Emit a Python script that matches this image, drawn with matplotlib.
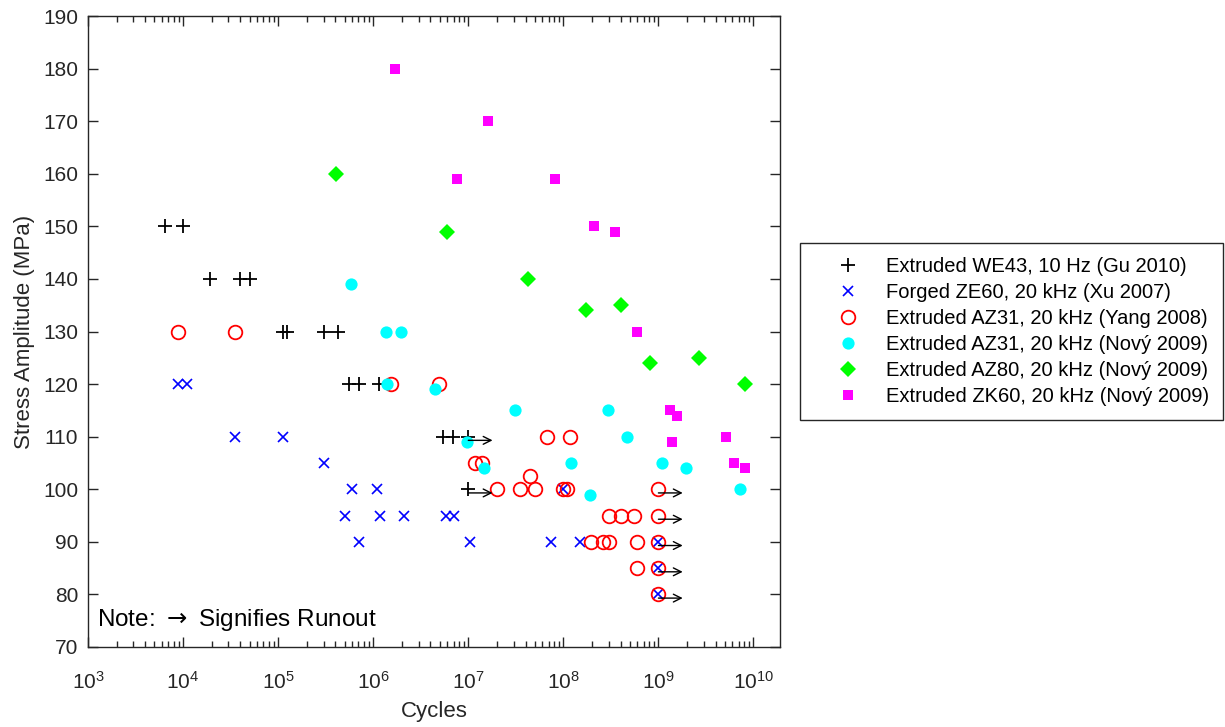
import matplotlib
matplotlib.use("Agg")
import matplotlib.pyplot as plt

plt.rcParams["font.family"] = ["Liberation Sans", "DejaVu Sans"]

# Extruded WE43, 10 Hz (Gu 2010)
we43_cycles = [6.5e3, 1.0e4, 1.9e4, 4.0e4, 5.1e4, 1.12e5, 1.23e5, 3.0e5, 4.3e5,
               5.5e5, 7.1e5, 1.15e6, 5.4e6, 6.9e6, 1.0e7, 1.0e7]
we43_stress = [150, 150, 140, 140, 140, 130, 130, 130, 130,
               120, 120, 120, 110, 110, 110, 100]

# Forged ZE60, 20 kHz (Xu 2007)
ze60_cycles = [8.9e3, 1.1e4, 3.5e4, 1.12e5, 3.0e5, 6.0e5, 1.1e6, 1.0e8, 5.0e5, 1.17e6,
               2.1e6, 5.9e6, 7.0e6, 7.1e5, 1.05e7, 7.4e7, 1.5e8, 1.0e9, 1.0e9, 1.0e9]
ze60_stress = [120, 120, 110, 110, 105, 100, 100, 100, 95, 95,
               95, 95, 95, 90, 90, 90, 90, 90, 85, 80]

# Extruded AZ31, 20 kHz (Yang 2008)
az31y_cycles = [8.9e3, 3.5e4, 1.55e6, 4.9e6, 6.7e7, 1.17e8, 1.18e7, 1.38e7, 4.5e7,
                2.0e7, 3.5e7, 5.0e7, 9.8e7, 1.1e8, 1.0e9, 3.0e8, 4.0e8, 5.5e8, 1.0e9,
                1.95e8, 2.6e8, 3.0e8, 6.0e8, 1.0e9, 6.0e8, 1.0e9, 1.0e9]
az31y_stress = [130, 130, 120, 120, 110, 110, 105, 105, 102.5,
                100, 100, 100, 100, 100, 100, 95, 95, 95, 95,
                90, 90, 90, 90, 90, 85, 85, 80]

# Extruded AZ31, 20 kHz (Nový 2009)
az31n_cycles = [5.9e5, 1.35e6, 1.95e6, 1.4e6, 4.5e6, 9.8e6, 1.45e7, 3.1e7, 1.2e8,
                1.9e8, 2.95e8, 4.7e8, 1.1e9, 1.95e9, 7.2e9]
az31n_stress = [139, 130, 130, 120, 119, 109, 104, 115, 105,
                99, 115, 110, 105, 104, 100]

# Extruded AZ80, 20 kHz (Nový 2009)
az80_cycles = [4.1e5, 6.0e6, 4.2e7, 1.75e8, 4.0e8, 8.1e8, 2.7e9, 8.1e9]
az80_stress = [160, 149, 140, 134, 135, 124, 125, 120]

# Extruded ZK60, 20 kHz (Nový 2009)
zk60_cycles = [1.7e6, 7.6e6, 1.6e7, 8.1e7, 2.1e8, 3.5e8, 6.0e8, 1.32e9, 1.4e9,
               1.58e9, 5.1e9, 6.3e9, 8.2e9]
zk60_stress = [180, 159, 170, 159, 150, 149, 130, 115, 109,
               114, 110, 105, 104]

# runout markers
runout_cycles = [1.0e7, 1.0e7, 1.0e9, 1.0e9, 1.0e9, 1.0e9, 1.0e9]
runout_stress = [110, 100, 100, 95, 90, 85, 80]

y_ticks = list(range(70, 191, 10))

fig = plt.figure(figsize=(12.25, 7.27), dpi=100)
ax = fig.add_axes([88 / 1225, 1 - 647 / 727, 692 / 1225, 631 / 727])

ax.plot(we43_cycles, we43_stress, ls="none", marker="+", ms=10, mew=1.3, color="k",
        label="Extruded WE43, 10 Hz (Gu 2010)")
ax.plot(ze60_cycles, ze60_stress, ls="none", marker="x", ms=7, mew=1.2, color="#0000ff",
        label="Forged ZE60, 20 kHz (Xu 2007)")
ax.plot(az31y_cycles, az31y_stress, ls="none", marker="o", ms=9.8, mew=1.3,
        markerfacecolor="none", color="#ff0000", label="Extruded AZ31, 20 kHz (Yang 2008)")
ax.plot(az31n_cycles, az31n_stress, ls="none", marker="o", ms=8.8, mew=0,
        color="#00ffff", label="Extruded AZ31, 20 kHz (Nový 2009)")
ax.plot(az80_cycles, az80_stress, ls="none", marker="D", ms=8.5, mew=0,
        color="#00ff00", label="Extruded AZ80, 20 kHz (Nový 2009)")
ax.plot(zk60_cycles, zk60_stress, ls="none", marker="s", ms=7.2, mew=0,
        color="#ff00ff", label="Extruded ZK60, 20 kHz (Nový 2009)")

for c, s in zip(runout_cycles, runout_stress):
    ax.annotate("", xy=(c * 1.8, s - 0.7), xytext=(c, s - 0.7),
                arrowprops=dict(arrowstyle="->", color="k", lw=1.0,
                                shrinkA=0, shrinkB=0, mutation_scale=14))

ax.text(0.013, 0.042, r"Note: $\rightarrow$ Signifies Runout", transform=ax.transAxes,
        fontsize=17.5, ha="left", va="center", color="k")

ax.set_xscale("log")
ax.set_xlim(1e3, 1.9e10)
ax.set_ylim(70, 190)
ax.set_yticks(y_ticks)
ax.set_xticks([1e3, 1e4, 1e5, 1e6, 1e7, 1e8, 1e9, 1e10])
ax.tick_params(which="both", direction="in", top=True, right=True,
               labelsize=15, colors="#262626", width=1)
ax.tick_params(which="major", length=7)
ax.tick_params(which="minor", length=4)
ax.tick_params(axis="x", which="both", pad=17)
ax.tick_params(axis="y", which="both", pad=7)
for sp in ax.spines.values():
    sp.set_color("#262626")
    sp.set_linewidth(1)

ax.set_xlabel("Cycles", fontsize=16, color="#262626", labelpad=6)
ax.set_ylabel("Stress Amplitude (MPa)", fontsize=16, color="#262626", labelpad=6)

leg = ax.legend(loc="upper left", bbox_to_anchor=(800 / 1225, 1 - 243 / 727),
                bbox_transform=fig.transFigure, fontsize=14.5, frameon=True,
                fancybox=False, framealpha=1, edgecolor="#262626",
                borderpad=0.7, handlelength=3.4, handletextpad=0.15,
                labelspacing=0.35, borderaxespad=0)
leg.get_frame().set_linewidth(1)

fig.savefig("out.png", dpi=100)
